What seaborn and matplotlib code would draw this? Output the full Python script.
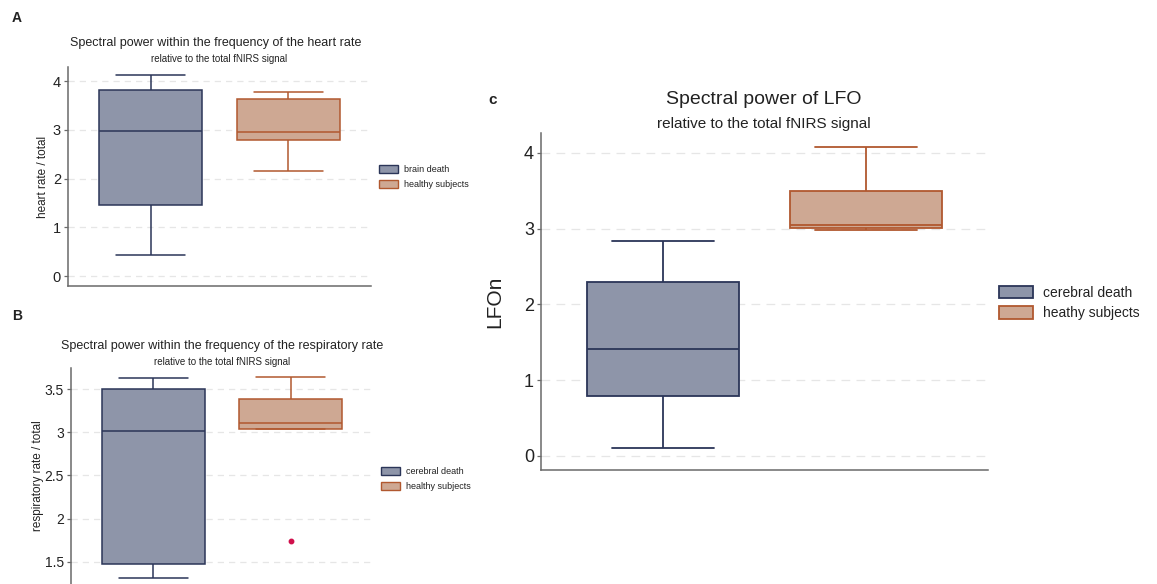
import numpy as np
import pandas as pd
import matplotlib
matplotlib.use("Agg")
import matplotlib.pyplot as plt
import seaborn as sns
from matplotlib.patches import Patch
from matplotlib import font_manager

# ---------------- data (five-number summaries) ----------------
hr_groups = ["brain death", "healthy subjects"]
hr_brain_death = [0.43, 1.47, 2.98, 3.81, 4.13]
hr_healthy = [2.16, 2.80, 2.96, 3.63, 3.78]
hr_ticks = [0, 1, 2, 3, 4]

rr_groups = ["cerebral death", "healthy subjects"]
rr_cerebral_death = [1.31, 1.47, 3.02, 3.50, 3.63]
rr_healthy = [1.74, 3.04, 3.11, 3.38, 3.64]
rr_ticks = [1.5, 2, 2.5, 3, 3.5]
rr_tick_labels = ["1.5", "2", "2.5", "3", "3.5"]

lfo_groups = ["cerebral death", "heathy subjects"]
lfo_cerebral_death = [0.10, 0.79, 1.41, 2.29, 2.84]
lfo_healthy = [2.98, 3.01, 3.05, 3.50, 4.08]
lfo_ticks = [0, 1, 2, 3, 4]

# ---------------- style ----------------
sns.set_style("white")
names = {f.name for f in font_manager.fontManager.ttflist}
FONT = "Liberation Sans" if "Liberation Sans" in names else "DejaVu Sans"
plt.rcParams["font.family"] = [FONT, "DejaVu Sans"]

FILL = ["#8e95a9", "#cea893"]
EDGE = ["#2b3558", "#b1582f"]
OUTLIER = "#d0104c"
TXT = "#222222"
SPINE = "#6a6a6a"

W, H = 1157, 584
fig = plt.figure(figsize=(W / 100, H / 100), dpi=100)


def fx(x):
    return x / W


def fy(y):
    return 1 - y / H


def axes_px(left, top, right, bottom):
    return fig.add_axes([fx(left), fy(bottom), (right - left) / W, (bottom - top) / H])


def panel(ax, groups, series, ylim, ticks, ticklabels, tick_fs, ylabel, ylabel_fs,
          ylabel_x, lw, dash, capw=0.5):
    df = pd.DataFrame({
        "group": np.repeat(groups, [len(s) for s in series]),
        "value": np.concatenate(series),
    })
    for i, g in enumerate(groups):
        sns.boxplot(
            data=df[df["group"] == g], x="group", y="value", order=groups,
            color=FILL[i], linecolor=EDGE[i], linewidth=lw, width=0.75,
            saturation=1, capwidths=capw, ax=ax,
            flierprops=dict(marker="o", markerfacecolor=OUTLIER,
                            markeredgecolor=OUTLIER, markersize=3.2),
        )
    ax.set_xlim(-0.6, 1.6)
    ax.set_ylim(*ylim)
    ax.set_yticks(ticks)
    ax.set_yticklabels(ticklabels, fontsize=tick_fs, color=TXT)
    ax.set_xticks([])
    ax.set_xlabel("")
    ax.set_ylabel(ylabel, fontsize=ylabel_fs, color=TXT)
    ax.yaxis.label.set_va("center")
    ax.yaxis.set_label_coords(ylabel_x, 0.5)
    ax.yaxis.grid(True, linestyle=(0, dash), color="#e6e6e6", linewidth=0.9)
    ax.set_axisbelow(True)
    for s in ["top", "right"]:
        ax.spines[s].set_visible(False)
    for s in ["left", "bottom"]:
        ax.spines[s].set_color(SPINE)
        ax.spines[s].set_linewidth(1.1)
    ax.tick_params(axis="y", left=True, length=3, width=0.9, color=SPINE, pad=2)
    if ax.get_legend() is not None:
        ax.get_legend().remove()


def legend(groups, x, y, fs, hl, hh, ls, htp, lw):
    handles = [Patch(facecolor=FILL[i], edgecolor=EDGE[i], linewidth=lw) for i in range(2)]
    fig.legend(handles, groups, loc="upper left", bbox_to_anchor=(fx(x), fy(y)),
               frameon=False, fontsize=fs, handlelength=hl, handleheight=hh,
               labelspacing=ls, handletextpad=htp, borderpad=0, borderaxespad=0,
               labelcolor=TXT)


# ---------------- panel A ----------------
axA = axes_px(68, 67, 371, 286)
panel(axA, hr_groups, [hr_brain_death, hr_healthy], (-0.2, 4.29), hr_ticks,
      [str(t) for t in hr_ticks], 10.5, "heart rate / total", 8.5, -0.083, 1.1, (5, 4))
fig.text(fx(216), fy(43), "Spectral power within the frequency of the heart rate",
         ha="center", va="center", fontsize=9, color=TXT)
fig.text(fx(219), fy(59), "relative to the total fNIRS signal",
         ha="center", va="center", fontsize=7, color=TXT)
fig.text(fx(12), fy(18), "A", ha="left", va="center", fontsize=10, fontweight="bold", color=TXT)
legend(hr_groups, 379, 165, 6.5, 2.1, 1.0, 0.6, 0.7, 1.0)

# ---------------- panel B ----------------
axB = axes_px(71, 368, 373, 584)
panel(axB, rr_groups, [rr_cerebral_death, rr_healthy], (1.244, 3.744), rr_ticks,
      rr_tick_labels, 10, "respiratory rate / total", 8.5, -0.109, 1.1, (5, 4))
axB.spines["bottom"].set_visible(False)
fig.text(fx(222), fy(346), "Spectral power within the frequency of the respiratory rate",
         ha="center", va="center", fontsize=9, color=TXT)
fig.text(fx(222), fy(362), "relative to the total fNIRS signal",
         ha="center", va="center", fontsize=7, color=TXT)
fig.text(fx(12), fy(316), "B", ha="left", va="center", fontsize=10, fontweight="bold", color=TXT)
legend(rr_groups, 381, 467, 6.5, 2.1, 1.0, 0.6, 0.7, 1.0)

# ---------------- panel C ----------------
axC = axes_px(541, 133, 988, 470)
panel(axC, lfo_groups, [lfo_cerebral_death, lfo_healthy], (-0.185, 4.26), lfo_ticks,
      [str(t) for t in lfo_ticks], 13, "LFOn", 15, -0.103, 1.3, (7, 5))
fig.text(fx(764), fy(99), "Spectral power of LFO",
         ha="center", va="center", fontsize=14, color=TXT)
fig.text(fx(764), fy(124), "relative to the total fNIRS signal",
         ha="center", va="center", fontsize=11, color=TXT)
fig.text(fx(488), fy(100), "c", ha="left", va="center", fontsize=11, fontweight="bold", color=TXT)
legend(lfo_groups, 999, 286, 10, 2.45, 1.0, 0.45, 0.7, 1.3)

fig.savefig("out.png", dpi=100, facecolor="white")
